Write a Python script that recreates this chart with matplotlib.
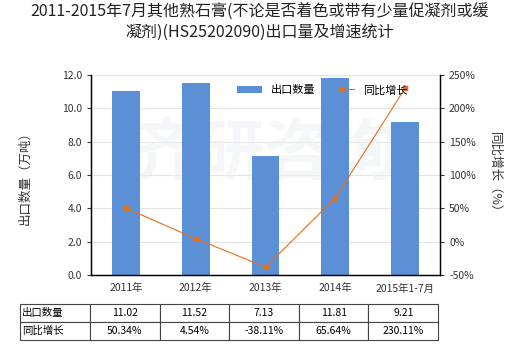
import matplotlib
matplotlib.use("Agg")
import matplotlib.pyplot as plt
import numpy as np

plt.rcParams['font.family'] = ['Noto Sans CJK SC', 'DejaVu Sans']

# data
categories = ['2011年', '2012年', '2013年', '2014年', '2015年1-7月']
export_qty = [11.02, 11.52, 7.13, 11.81, 9.21]
growth = [50.34, 4.54, -38.11, 65.64, 230.11]
qty_labels = ['11.02', '11.52', '7.13', '11.81', '9.21']
growth_labels = ['50.34%', '4.54%', '-38.11%', '65.64%', '230.11%']

bar_color = '#5b8fd6'
line_color = '#e0701c'

fig = plt.figure(figsize=(5.2, 3.5), dpi=100)
ax = fig.add_axes([91 / 520, 75 / 350, 349 / 520, 200 / 350])
ax2 = ax.twinx()

x = np.arange(len(categories))
ax.bar(x, export_qty, width=0.4, color=bar_color, label='出口数量', zorder=2)
ax2.plot(x, growth, color=line_color, lw=0.8, marker='s', ms=3.5,
         label='同比增长', zorder=3)

ax.set_xlim(-0.5, len(categories) - 0.5)
ax.set_ylim(0, 12)
ax.set_yticks(np.arange(0, 12.1, 2))
ax.set_yticklabels([f'{v:.1f}' for v in np.arange(0, 12.1, 2)])
ax2.set_ylim(-50, 250)
ax2.set_yticks(np.arange(-50, 251, 50))
ax2.set_yticklabels([f'{v}%' for v in range(-50, 251, 50)])

ax.set_xticks(x)
ax.set_xticklabels(categories)
ax.grid(axis='y', color='#e4e4e4', lw=0.8, zorder=0)
ax.set_axisbelow(True)

for a in (ax, ax2):
    a.spines['top'].set_visible(False)
    a.tick_params(labelsize=7.5, length=3, width=0.8, colors='#333333')
    for s in a.spines.values():
        s.set_linewidth(0.9)
ax.tick_params(axis='x', length=0, pad=6)

ax.set_ylabel('出口数量（万吨）', fontsize=9, labelpad=22, color='#333333')
ax2.set_ylabel('同比增长（%）', fontsize=9, rotation=270, labelpad=18, color='#333333')

# watermark
ax.text(0.5, 0.6, '齐研咨询', transform=ax.transAxes, fontsize=48,
        color='#edf1f7', alpha=0.6, ha='center', va='center', zorder=1,
        fontweight='bold')

# legend
h1, l1 = ax.get_legend_handles_labels()
h2, l2 = ax2.get_legend_handles_labels()
ax2.legend(h1 + h2, l1 + l2, loc='upper right', bbox_to_anchor=(0.935, 1.0),
           ncol=2, frameon=False, fontsize=8, handlelength=2.2,
           columnspacing=1.3)

fig.suptitle('2011-2015年7月其他熟石膏(不论是否着色或带有少量促凝剂或缓\n凝剂)(HS25202090)出口量及增速统计',
             fontsize=11.5, y=0.99, color='#222222', linespacing=1.25)

# data table
cell_text = [['出口数量'] + qty_labels, ['同比增长'] + growth_labels]
tab = ax.table(cellText=cell_text,
               bbox=[(20 - 91) / 349, -(340 - 275) / 200,
                     (438 - 20) / 349, (340 - 304) / 200],
               cellLoc='center', colWidths=[70] + [69.6] * 5)
tab.auto_set_font_size(False)
tab.set_fontsize(7.5)
for (r, c), cell in tab.get_celld().items():
    cell.set_linewidth(0.8)
    cell.set_edgecolor('#444444')
    if c == 0:
        cell.set_text_props(ha='left')
        cell.PAD = 0.03

fig.savefig('out.png', dpi=100)
